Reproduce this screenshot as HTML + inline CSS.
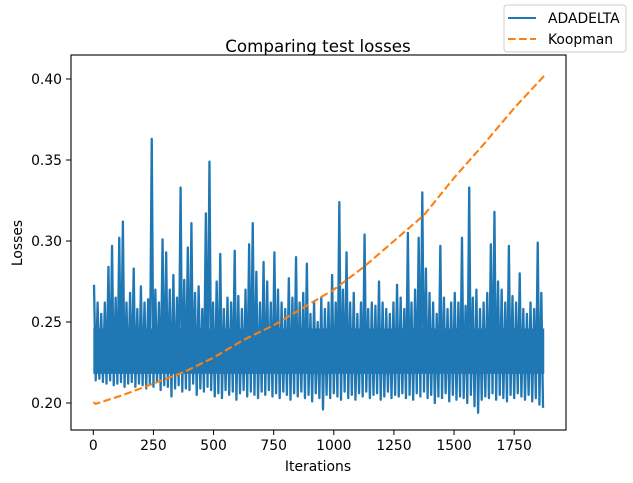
<!DOCTYPE html>
<html><head><meta charset="utf-8">
<style>
html,body{margin:0;padding:0;background:#fff;}
svg{display:block;font-family:"DejaVu Sans","Liberation Sans",sans-serif;}
</style></head>
<body>
<svg id="chart" width="633" height="483" viewBox="0 0 633 483" xmlns="http://www.w3.org/2000/svg">
<rect width="633" height="483" fill="#fff"/>
<g id="plot"></g>
<rect x="71" y="55" width="495" height="375" fill="none" stroke="#000" stroke-width="1.1"/>
<text x="318" y="52" font-size="16.7" text-anchor="middle">Comparing test losses</text>
<text x="318" y="471" font-size="13.9" text-anchor="middle">Iterations</text>
<text transform="translate(22,243) rotate(-90)" font-size="13.9" text-anchor="middle">Losses</text>
<g id="xticks"></g><g id="yticks"></g>
<g>
<rect x="504" y="5" width="122" height="47" rx="3" fill="#fff" stroke="#ccc" stroke-width="1"/>
<line x1="508" y1="18" x2="536" y2="18" stroke="#1f77b4" stroke-width="2.08"/>
<text x="548" y="23" font-size="13.9">ADADELTA</text>
<line x1="508" y1="39" x2="536" y2="39" stroke="#ff7f0e" stroke-width="2.08" stroke-dasharray="7.7,3.3"/>
<text x="548" y="44" font-size="13.9">Koopman</text>
</g>
</svg>
<script>
const xTicks = [0,250,500,750,1000,1250,1500,1750];
const yTicks = [0.20,0.25,0.30,0.35,0.40];
const yTickLabels = ["0.20","0.25","0.30","0.35","0.40"];
const binSize = 15;
const adaHighs = [.273,.262,.255,.262,.284,.297,.265,.302,.312,.262,.268,.283,.258,.272,.262,.264,.363,.270,.262,.301,.293,.270,.279,.265,.333,.276,.296,.311,.268,.272,.258,.317,.349,.262,.275,.292,.258,.265,.262,.294,.266,.258,.270,.298,.311,.281,.262,.287,.275,.262,.293,.270,.262,.258,.277,.265,.290,.262,.268,.286,.255,.262,.250,.265,.258,.262,.279,.262,.324,.270,.293,.262,.268,.255,.262,.304,.258,.262,.260,.275,.262,.258,.255,.262,.273,.265,.258,.305,.262,.270,.302,.330,.283,.268,.262,.255,.297,.265,.258,.262,.268,.262,.302,.260,.333,.265,.270,.258,.262,.268,.298,.318,.275,.270,.262,.297,.266,.262,.280,.258,.255,.262,.258,.299,.268];
const adaLows = [.214,.215,.213,.212,.214,.211,.212,.213,.210,.212,.213,.210,.212,.211,.209,.212,.210,.213,.208,.211,.210,.204,.209,.211,.207,.209,.208,.212,.205,.209,.207,.210,.208,.204,.206,.203,.208,.205,.207,.202,.206,.208,.204,.207,.205,.203,.207,.205,.208,.204,.206,.203,.207,.205,.202,.206,.204,.207,.203,.205,.201,.206,.203,.196,.205,.203,.206,.204,.202,.207,.203,.205,.202,.206,.204,.207,.203,.205,.206,.202,.204,.207,.203,.205,.204,.206,.203,.205,.202,.206,.204,.207,.203,.205,.200,.204,.203,.206,.201,.205,.202,.204,.203,.200,.205,.198,.194,.202,.204,.203,.206,.202,.205,.203,.201,.205,.203,.206,.204,.202,.205,.201,.203,.199,.197];
const coreTop = 0.246;
const coreBottom = 0.218;
const koopIters = [0,10,125,250,375,500,625,750,875,1000,1125,1250,1375,1500,1625,1750,1875];
const koopVals = [0.2005,0.1995,0.205,0.212,0.219,0.228,0.239,0.248,0.259,0.270,0.284,0.300,0.316,0.339,0.360,0.382,0.402];

const NS = "http://www.w3.org/2000/svg";
function xs(v){ return 93.3 + v*0.2405; }
function ys(v){ return 403 - (v-0.20)*1620; }

const plot = document.getElementById('plot');
const n = adaHighs.length;
const core = document.createElementNS(NS,'rect');


core.setAttribute('x', xs(0));
core.setAttribute('width', xs(n*binSize) - xs(0));
core.setAttribute('y', ys(coreTop));
core.setAttribute('height', ys(coreBottom) - ys(coreTop));
core.setAttribute('fill', '#1f77b4');
plot.appendChild(core);

let pts = [];
for (let i=0;i<n;i++){
  pts.push(xs(i*binSize+3).toFixed(2)+","+ys(adaHighs[i]).toFixed(2));
  pts.push(xs(i*binSize+10).toFixed(2)+","+ys(adaLows[i]).toFixed(2));
}
const ada = document.createElementNS(NS,'polyline');


ada.setAttribute('points', pts.join(' '));
ada.setAttribute('fill','none');
ada.setAttribute('stroke','#1f77b4');
ada.setAttribute('stroke-width','2.3');
ada.setAttribute('stroke-linejoin','round');
plot.appendChild(ada);

const kp = koopIters.map((it,i)=>xs(it).toFixed(2)+","+ys(koopVals[i]).toFixed(2));
const koop = document.createElementNS(NS,'polyline');


koop.setAttribute('points', kp.join(' '));
koop.setAttribute('fill','none');
koop.setAttribute('stroke','#ff7f0e');
koop.setAttribute('stroke-width','2.08');
koop.setAttribute('stroke-dasharray','7.7,3.3');
plot.appendChild(koop);

const xg = document.getElementById('xticks');
xTicks.forEach(t=>{
  const x = xs(t);
  const l = document.createElementNS(NS,'line');
  
  
  l.setAttribute('x1',x); l.setAttribute('x2',x); l.setAttribute('y1',430); l.setAttribute('y2',435);
  l.setAttribute('stroke','#000');
  xg.appendChild(l);
  const tx = document.createElementNS(NS,'text');
  
  
  tx.setAttribute('x',x); tx.setAttribute('y',450); tx.setAttribute('font-size','13.9');
  tx.setAttribute('text-anchor','middle');
  tx.textContent = String(t);
  xg.appendChild(tx);
});
const yg = document.getElementById('yticks');
yTicks.forEach((t,i)=>{
  const y = ys(t);
  const l = document.createElementNS(NS,'line');
  
  
  l.setAttribute('x1',66); l.setAttribute('x2',71); l.setAttribute('y1',y); l.setAttribute('y2',y);
  l.setAttribute('stroke','#000');
  yg.appendChild(l);
  const tx = document.createElementNS(NS,'text');
  
  
  tx.setAttribute('x',62); tx.setAttribute('y',y+5); tx.setAttribute('font-size','13.9');
  tx.setAttribute('text-anchor','end');
  tx.textContent = yTickLabels[i];
  yg.appendChild(tx);
});
</script>
</body></html>
